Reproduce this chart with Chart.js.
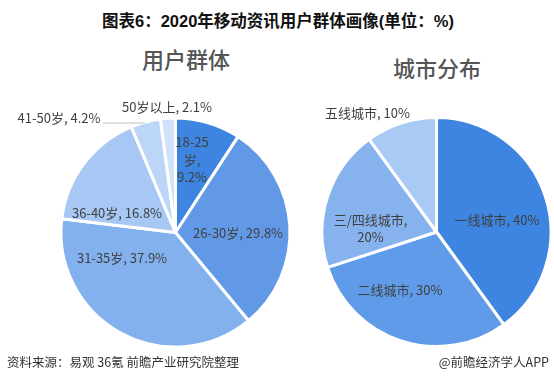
<!DOCTYPE html>
<html>
<head>
<meta charset="utf-8">
<script src="https://cdn.jsdelivr.net/npm/chart.js@4.4.1/dist/chart.umd.min.js"></script>
<style>
  body { margin: 0; background: #fff; }
  #wrap { position: relative; width: 554px; height: 384px; overflow: hidden; font-family: "Noto Sans CJK SC", sans-serif; }
  canvas { position: absolute; left: 0; top: 0; }
  .t { position: absolute; white-space: nowrap; transform: translate(-50%, -50%); }
  #main { left: 278px; top: 20px; font: bold 16.5px "Liberation Sans", "Noto Sans CJK SC", sans-serif; color: #111; }
  .sub { font-size: 22px; font-weight: 500; color: #555; }
  .foot { position: absolute; top: 361px; font-size: 12.5px; color: #333; white-space: nowrap; transform: translateY(-50%); }
</style>
</head>
<body>
<div id="wrap">
  <div class="t" id="main">图表6：2020年移动资讯用户群体画像(单位：%)</div>
  <div class="t sub" style="left:186px;top:58px;">用户群体</div>
  <div class="t sub" style="left:437px;top:67px;">城市分布</div>
  <canvas id="ageChart" width="554" height="384"></canvas>
  <canvas id="cityChart" width="554" height="384"></canvas>
  <div class="foot" style="left:7px;">资料来源：易观 36氪 前瞻产业研究院整理</div>
  <div class="foot" style="right:5px;">@前瞻经济学人APP</div>
</div>
<script>
// data
const ageLabels = ['18-25岁', '26-30岁', '31-35岁', '36-40岁', '41-50岁', '50岁以上'];
const ageValues = [9.2, 29.8, 37.9, 16.8, 4.2, 2.1];
const cityLabels = ['一线城市', '二线城市', '三/四线城市', '五线城市'];
const cityValues = [40, 30, 20, 10];

const ageColors = ['#3d85e0', '#6199e6', '#83b1ee', '#a7c8f4', '#bcd6f7', '#d0e3fa'];
const cityColors = ['#3d85e0', '#5f9be8', '#86b3ee', '#a9caf5'];

// label placement, relative to pie centre
const ageLabelPos = [
  { dx: 16.5, dy: -72.5, maxWidth: 42 },
  { dx: 62.5, dy: 0.5 },
  { dx: -53.5, dy: 25.5 },
  { dx: -58.5, dy: -19.5 },
  { dx: -116.5, dy: -114.5, leader: [-72.5, -110, -30.5, -110] },
  { dx: -8.5, dy: -125.5 }
];
const cityLabelPos = [
  { dx: 60.5, dy: -12 },
  { dx: -36.5, dy: 58 },
  { dx: -66, dy: -3.5, maxWidth: 86 },
  { dx: -69, dy: -119 }
];

function wrapText(ctx, text, maxWidth) {
  const tokens = text.match(/[\u4e00-\u9fff][,，]?|\s+|[^\s\u4e00-\u9fff]+/g);
  const lines = [];
  let cur = '';
  tokens.forEach(tk => {
    const test = cur + tk;
    if (cur.trim() && ctx.measureText(test.trim()).width > maxWidth) {
      lines.push(cur.trim());
      cur = tk.trimStart();
    } else {
      cur = test;
    }
  });
  if (cur.trim()) lines.push(cur.trim());
  return lines;
}

function labelPlugin(layout) {
  return {
    id: 'sliceLabels',
    afterDatasetsDraw(chart) {
      const ctx = chart.ctx;
      const ds = chart.data.datasets[0];
      const meta = chart.getDatasetMeta(0);
      ctx.save();
      ctx.font = '13px "Noto Sans CJK SC", sans-serif';
      ctx.fillStyle = '#404040';
      ctx.textAlign = 'center';
      ctx.textBaseline = 'middle';
      meta.data.forEach((arc, i) => {
        const pos = layout[i];
        const text = chart.data.labels[i] + ', ' + ds.data[i] + '%';
        const lines = pos.maxWidth ? wrapText(ctx, text, pos.maxWidth) : [text];
        const lh = 17.5;
        lines.forEach((ln, k) => {
          ctx.fillText(ln, arc.x + pos.dx, arc.y + pos.dy + (k - (lines.length - 1) / 2) * lh);
        });
        if (pos.leader) {
          const l = pos.leader;
          ctx.strokeStyle = '#bfbfbf';
          ctx.lineWidth = 1;
          ctx.beginPath();
          ctx.moveTo(arc.x + l[0], arc.y + l[1] + 0.5);
          ctx.lineTo(arc.x + l[2], arc.y + l[3] + 0.5);
          ctx.stroke();
        }
      });
      ctx.restore();
    }
  };
}

function makePie(id, labels, values, colors, padding, layout) {
  return new Chart(document.getElementById(id), {
    type: 'pie',
    data: {
      labels: labels,
      datasets: [{
        data: values,
        backgroundColor: colors,
        borderColor: '#ffffff',
        borderWidth: 3,
        radius: 114.5,
        hoverOffset: 0
      }]
    },
    options: {
      responsive: false,
      animation: false,
      events: [],
      layout: { padding: padding },
      plugins: {
        legend: { display: false },
        tooltip: { enabled: false }
      }
    },
    plugins: [labelPlugin(layout)]
  });
}

makePie('ageChart', ageLabels, ageValues, ageColors, { left: 0, right: 203, top: 81, bottom: 0 }, ageLabelPos);
makePie('cityChart', cityLabels, cityValues, cityColors, { left: 319, right: 0, top: 80, bottom: 0 }, cityLabelPos);
</script>
</body>
</html>
